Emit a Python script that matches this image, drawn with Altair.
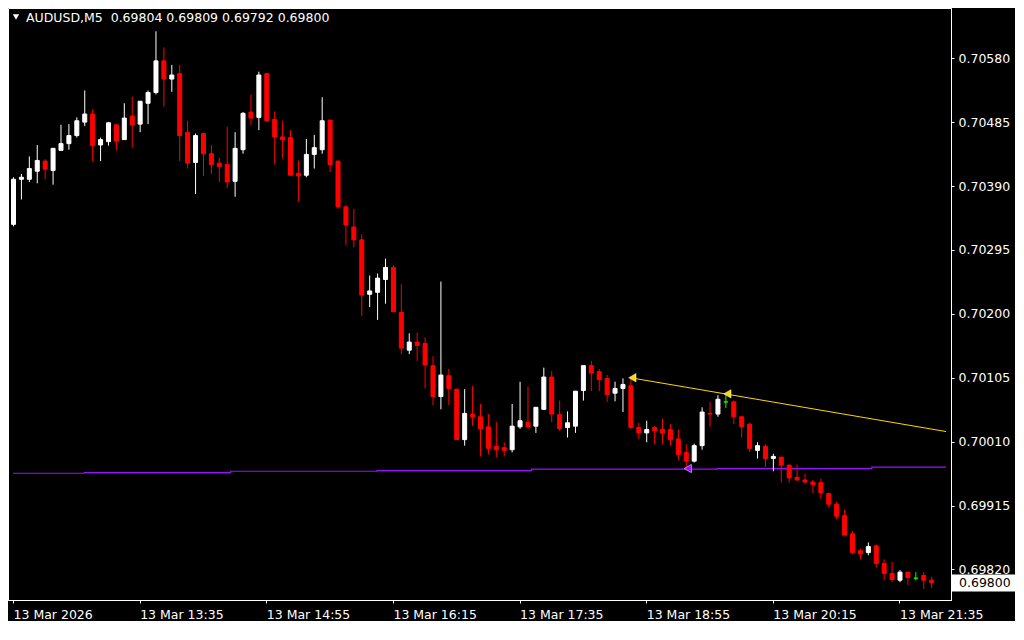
import altair as alt
import pandas as pd

# ---------------- data ----------------
symbol = "AUDUSD,M5"
bar_index = list(range(117))  # 5-minute bars, 12:15 .. 21:55

opens = [
    0.70333, 0.70400, 0.70400, 0.70412, 0.70427, 0.70413, 0.70443, 0.70453, 0.70465, 0.70485,
    0.70497, 0.70451, 0.70456, 0.70481, 0.70459, 0.70494, 0.70482, 0.70513, 0.70529, 0.70576,
    0.70549, 0.70557, 0.70470, 0.70425, 0.70468, 0.70438, 0.70424, 0.70422, 0.70397, 0.70444,
    0.70500, 0.70492, 0.70557, 0.70489, 0.70463, 0.70462, 0.70409, 0.70406, 0.70437, 0.70444,
    0.70488, 0.70427, 0.70359, 0.70329, 0.70310, 0.70229, 0.70232, 0.70251, 0.70269, 0.70202,
    0.70146, 0.70158, 0.70156, 0.70123, 0.70077, 0.70108, 0.70088, 0.70013, 0.70051, 0.70047,
    0.70032, 0.70003, 0.70001, 0.69998, 0.70032, 0.70039, 0.70033, 0.70058, 0.70106, 0.70050,
    0.70031, 0.70033, 0.70086, 0.70123, 0.70114, 0.70104, 0.70082, 0.70089, 0.70093, 0.70031,
    0.70023, 0.70031, 0.70028, 0.70028, 0.70014, 0.69994, 0.69981, 0.70004, 0.70052, 0.70051,
    0.70069, 0.70069, 0.70047, 0.70036, 0.69997, 0.70003, 0.69985, 0.69987, 0.69975, 0.69957,
    0.69953, 0.69950, 0.69949, 0.69933, 0.69917, 0.69900, 0.69873, 0.69848, 0.69845, 0.69855,
    0.69829, 0.69814, 0.69804, 0.69816, 0.69807, 0.69811, 0.69804,
]
highs = [
    0.70403, 0.70408, 0.70434, 0.70451, 0.70430, 0.70446, 0.70481, 0.70482, 0.70492, 0.70532,
    0.70504, 0.70462, 0.70485, 0.70481, 0.70513, 0.70523, 0.70516, 0.70532, 0.70620, 0.70596,
    0.70570, 0.70570, 0.70487, 0.70468, 0.70468, 0.70451, 0.70432, 0.70478, 0.70470, 0.70500,
    0.70526, 0.70560, 0.70557, 0.70501, 0.70487, 0.70473, 0.70428, 0.70460, 0.70466, 0.70522,
    0.70488, 0.70428, 0.70362, 0.70356, 0.70318, 0.70257, 0.70260, 0.70282, 0.70272, 0.70244,
    0.70171, 0.70172, 0.70165, 0.70137, 0.70248, 0.70118, 0.70088, 0.70088, 0.70093, 0.70066,
    0.70051, 0.70039, 0.70009, 0.70066, 0.70099, 0.70092, 0.70061, 0.70120, 0.70115, 0.70071,
    0.70055, 0.70085, 0.70123, 0.70130, 0.70118, 0.70109, 0.70099, 0.70104, 0.70105, 0.70038,
    0.70041, 0.70033, 0.70044, 0.70036, 0.70028, 0.70006, 0.70007, 0.70061, 0.70069, 0.70079,
    0.70081, 0.70071, 0.70047, 0.70038, 0.70009, 0.70006, 0.69992, 0.69987, 0.69976, 0.69976,
    0.69962, 0.69953, 0.69955, 0.69933, 0.69921, 0.69909, 0.69877, 0.69851, 0.69860, 0.69857,
    0.69835, 0.69831, 0.69819, 0.69816, 0.69816, 0.69816, 0.69809,
]
lows = [
    0.70330, 0.70370, 0.70396, 0.70394, 0.70400, 0.70392, 0.70443, 0.70444, 0.70462, 0.70479,
    0.70427, 0.70427, 0.70450, 0.70443, 0.70459, 0.70447, 0.70470, 0.70482, 0.70526, 0.70508,
    0.70530, 0.70427, 0.70416, 0.70378, 0.70405, 0.70408, 0.70396, 0.70387, 0.70374, 0.70438,
    0.70481, 0.70473, 0.70485, 0.70422, 0.70431, 0.70406, 0.70367, 0.70403, 0.70416, 0.70438,
    0.70411, 0.70356, 0.70302, 0.70299, 0.70197, 0.70210, 0.70191, 0.70215, 0.70203, 0.70140,
    0.70140, 0.70130, 0.70089, 0.70064, 0.70058, 0.70064, 0.70013, 0.70004, 0.70033, 0.69988,
    0.69991, 0.69987, 0.69988, 0.69994, 0.70029, 0.70029, 0.70023, 0.70058, 0.70039, 0.70026,
    0.70016, 0.70023, 0.70071, 0.70085, 0.70085, 0.70069, 0.70070, 0.70054, 0.70029, 0.70014,
    0.70009, 0.70006, 0.70006, 0.70004, 0.69982, 0.69971, 0.69979, 0.69998, 0.70032, 0.70047,
    0.70060, 0.70036, 0.70016, 0.69995, 0.69985, 0.69972, 0.69966, 0.69949, 0.69949, 0.69952,
    0.69947, 0.69933, 0.69925, 0.69912, 0.69895, 0.69871, 0.69843, 0.69835, 0.69841, 0.69823,
    0.69804, 0.69801, 0.69801, 0.69797, 0.69804, 0.69791, 0.69792,
]
closes = [
    0.70400, 0.70403, 0.70416, 0.70428, 0.70415, 0.70446, 0.70453, 0.70465, 0.70487, 0.70497,
    0.70450, 0.70459, 0.70484, 0.70457, 0.70491, 0.70481, 0.70516, 0.70529, 0.70576, 0.70549,
    0.70555, 0.70465, 0.70424, 0.70465, 0.70438, 0.70422, 0.70419, 0.70396, 0.70446, 0.70498,
    0.70491, 0.70555, 0.70487, 0.70463, 0.70459, 0.70406, 0.70405, 0.70437, 0.70447, 0.70487,
    0.70422, 0.70359, 0.70332, 0.70310, 0.70228, 0.70234, 0.70253, 0.70269, 0.70203, 0.70149,
    0.70158, 0.70153, 0.70124, 0.70077, 0.70109, 0.70089, 0.70013, 0.70052, 0.70047, 0.70029,
    0.70000, 0.69998, 0.69997, 0.70033, 0.70041, 0.70032, 0.70061, 0.70106, 0.70051, 0.70029,
    0.70038, 0.70085, 0.70123, 0.70112, 0.70102, 0.70080, 0.70089, 0.70095, 0.70031, 0.70023,
    0.70028, 0.70026, 0.70023, 0.70013, 0.69991, 0.69981, 0.70004, 0.70054, 0.70051, 0.70073,
    0.70069, 0.70047, 0.70032, 0.70000, 0.70004, 0.69985, 0.69988, 0.69975, 0.69956, 0.69953,
    0.69950, 0.69946, 0.69934, 0.69917, 0.69899, 0.69871, 0.69845, 0.69843, 0.69854, 0.69829,
    0.69814, 0.69805, 0.69816, 0.69808, 0.69807, 0.69804, 0.69800,
]

# time axis labels
tick_index = [0, 16, 32, 48, 64, 80, 96, 112]
tick_labels = ["13 Mar 2026", "13 Mar 13:35", "13 Mar 14:55", "13 Mar 16:15",
               "13 Mar 17:35", "13 Mar 18:55", "13 Mar 20:15", "13 Mar 21:35"]
# price axis labels
price_ticks = [0.69820, 0.69915, 0.70010, 0.70105, 0.70200, 0.70295, 0.70390, 0.70485, 0.70580]

# yellow trend line (through swing highs) and its anchor arrows
trend_x = [78, 117.875]
trend_p = [0.70105, 0.70025]
arrow_x = [78, 90, 85]
arrow_p = [0.70105, 0.70081, 0.69970]
arrow_kind = ["trend", "trend", "support"]

# purple level line (steps up slightly)
level_x = [0, 9, 27.5, 46, 65.5, 89, 108.5, 117.875]
level_p = [0.69963, 0.69964, 0.69966, 0.69967, 0.69969, 0.69970, 0.69972, 0.69972]

# ---------------- chart ----------------
FONT = "DejaVu Sans"
FS = 12.5
W, H = 943, 592
X_DOMAIN = [0, 117.875]
Y_DOMAIN = [0.697820, 0.706472]
YELLOW, PURPLE = "#ffd700", "#9a10ff"

candles = pd.DataFrame({"idx": bar_index, "open": opens, "high": highs,
                        "low": lows, "close": closes})
trend = pd.DataFrame({"idx": trend_x, "price": trend_p})
arrows = pd.DataFrame({"idx": arrow_x, "price": arrow_p, "kind": arrow_kind})
level = pd.DataFrame({"idx": level_x, "price": level_p})
last = candles.iloc[[-1]]
header = pd.DataFrame({"t": [symbol + "\u00a0\u00a0" + " ".join(
    f"{v:.5f}" for v in [opens[-1], highs[-1], lows[-1], closes[-1]])]})
one = pd.DataFrame({"k": [0]})

label_expr = " : ".join(f"datum.value == {i} ? '{t}'" for i, t in zip(tick_index, tick_labels)) + " : ''"

x_axis = alt.Axis(values=tick_index, labelExpr=label_expr, tickSize=3, labelAlign="left",
                  labelPadding=5, labelOverlap=False, labelFlush=False, grid=False,
                  title=None)
y_axis = alt.Axis(orient="right", values=price_ticks, format=".5f", tickSize=3,
                  labelPadding=4, labelOverlap=False, labelFlush=False, grid=False,
                  title=None, labelBaseline="middle")

def xenc(field="idx"):
    return alt.X(f"{field}:Q", scale=alt.Scale(domain=X_DOMAIN, nice=False, zero=False),
                 axis=x_axis, title=None)

def yenc(field):
    return alt.Y(f"{field}:Q", scale=alt.Scale(domain=Y_DOMAIN, nice=False, zero=False),
                 axis=y_axis, title=None)

# one shared categorical scale for every fill / stroke / colour in the layer
kind_scale = alt.Scale(domain=["up", "down", "doji", "trend", "support"],
                       range=["#ffffff", "#ff0000", "#00ff00", YELLOW, PURPLE])
dir_calc = "datum.close > datum.open ? 'up' : (datum.close < datum.open ? 'down' : 'doji')"

level_line = alt.Chart(level).mark_line(color=PURPLE, strokeWidth=1.2, interpolate="step-after",
                                        clip=True).encode(x=xenc(), y=yenc("price"))
trend_line = alt.Chart(trend).mark_line(color=YELLOW, strokeWidth=1, clip=True).encode(
    x=xenc(), y=yenc("price"))

base = alt.Chart(candles).transform_calculate(dir=dir_calc)
wicks = base.mark_rule(strokeWidth=1, xOffset=0.5, clip=True).encode(
    x=xenc(), y=yenc("low"), y2="high:Q",
    color=alt.Color("dir:N", scale=kind_scale, legend=None))
bodies = base.mark_bar(size=4, strokeWidth=1, xOffset=0.5, clip=True).encode(
    x=xenc(), y=yenc("open"), y2="close:Q",
    fill=alt.Fill("dir:N", scale=kind_scale, legend=None),
    stroke=alt.Stroke("dir:N", scale=kind_scale, legend=None))

arrow_marks = alt.Chart(arrows).mark_point(shape="triangle-left", filled=True, size=70,
                                           stroke="white", strokeWidth=0.5, xOffset=2,
                                           opacity=1).encode(
    x=xenc(), y=yenc("price"),
    fill=alt.Fill("kind:N", scale=kind_scale, legend=None))

price_box = alt.Chart(last).mark_bar(orient="horizontal", size=17, color="white").encode(
    x=alt.value(944), x2=alt.value(1007), y=yenc("close"))
price_text = alt.Chart(last).mark_text(align="left", baseline="middle", color="black",
                                       font=FONT, fontSize=FS).encode(
    x=alt.value(951), y=yenc("close"), text=alt.Text("close:Q", format=".5f"))

header_tri = alt.Chart(one).mark_point(shape="triangle-down", filled=True, color="white",
                                       size=40, opacity=1).encode(
    x=alt.value(8), y=alt.value(9))
header_text = alt.Chart(header).mark_text(align="left", baseline="middle", color="white",
                                          font=FONT, fontSize=FS).encode(
    x=alt.value(18), y=alt.value(10), text="t:N")

chart = alt.layer(level_line, trend_line, wicks, bodies, arrow_marks,
                  price_box, price_text, header_tri, header_text).properties(
    width=W, height=H, padding=0, background="black",
).configure_view(stroke="white", strokeWidth=1, fill="black").configure_axis(
    domainColor="white", tickColor="white", labelColor="white",
    labelFont=FONT, labelFontSize=FS, domainWidth=1, tickWidth=1,
)

chart.save("out.html", embed_options={"renderer": "svg", "actions": False})
